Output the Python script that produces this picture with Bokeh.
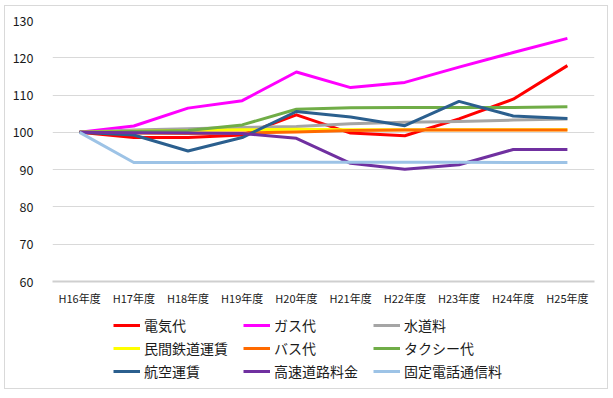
from bokeh.plotting import figure
from bokeh.models import Range1d, FixedTicker, Legend, LegendItem
from bokeh.layouts import column
from bokeh.embed import file_html
from bokeh.resources import INLINE

categories = ["H16年度", "H17年度", "H18年度", "H19年度", "H20年度",
              "H21年度", "H22年度", "H23年度", "H24年度", "H25年度"]

denki = [100, 98.6, 98.6, 99.3, 104.7, 99.8, 99.1, 103.6, 108.9, 117.9]
gas = [100, 101.7, 106.5, 108.5, 116.2, 112.0, 113.4, 117.5, 121.4, 125.2]
suido = [100, 100.6, 101.0, 101.3, 101.6, 102.3, 102.7, 102.9, 103.3, 103.6]
tetsudo = [100, 100.3, 100.5, 100.7, 100.8, 100.7, 100.7, 100.7, 100.7, 100.7]
bus = [100, 99.8, 99.7, 99.8, 100.1, 100.5, 100.6, 100.6, 100.6, 100.6]
taxi = [100, 100.2, 100.5, 102.0, 106.2, 106.6, 106.7, 106.7, 106.7, 106.9]
koku = [100, 99.3, 95.0, 98.6, 105.6, 104.1, 101.8, 108.3, 104.4, 103.7]
kosoku = [100, 99.9, 99.8, 99.7, 98.4, 91.7, 90.1, 91.3, 95.4, 95.4]
denwa = [100, 91.9, 91.9, 92.0, 92.0, 92.0, 92.0, 92.0, 91.9, 91.9]

series_names = ["電気代", "ガス代", "水道料", "民間鉄道運賃", "バス代",
                "タクシー代", "航空運賃", "高速道路料金", "固定電話通信料"]
series_values = [denki, gas, suido, tetsudo, bus, taxi, koku, kosoku, denwa]
series_colors = ["#FF0000", "#FF00FF", "#A5A5A5", "#FFFF00", "#FF6A00",
                 "#70AD47", "#2B5F8E", "#7030A0", "#9DC3E6"]

y_ticks = [60, 70, 80, 90, 100, 110, 120, 130]

FONT = "Noto Sans CJK JP"

p = figure(x_range=categories, y_range=Range1d(60, 130),
           width=602, height=303, output_backend="svg", toolbar_location=None,
           min_border_left=47, min_border_right=13, min_border_top=14,
           min_border_bottom=28)
p.outline_line_color = None
p.background_fill_color = "white"
p.border_fill_color = "white"

p.xgrid.grid_line_color = None
p.ygrid.grid_line_color = "#D9D9D9"
p.ygrid.grid_line_width = 1
p.yaxis.ticker = FixedTicker(ticks=y_ticks)
p.yaxis.axis_line_color = None
p.yaxis.major_tick_line_color = None
p.yaxis.minor_tick_line_color = None
p.yaxis.major_tick_out = 0
p.yaxis.major_tick_in = 0
p.yaxis.major_label_standoff = 19
p.yaxis.major_label_text_font = FONT
p.yaxis.major_label_text_font_size = "12.5px"
p.yaxis.major_label_text_color = "#1a1a1a"

p.xaxis.axis_line_color = "#CFCFCF"
p.xaxis.axis_line_width = 2
p.xaxis.major_tick_line_color = None
p.xaxis.minor_tick_line_color = None
p.xaxis.major_tick_out = 0
p.xaxis.major_tick_in = 0
p.xaxis.major_label_standoff = 8
p.xaxis.major_label_text_font = FONT
p.xaxis.major_label_text_font_size = "11px"
p.xaxis.major_label_text_color = "#1a1a1a"

for vals, col in zip(series_values, series_colors):
    p.line(categories, vals, line_color=col, line_width=3, line_join="round")

# legend panel below the chart (its series lie outside its empty view)
p2 = figure(width=602, height=79, output_backend="svg", toolbar_location=None,
            x_range=categories, y_range=Range1d(0, 1),
            x_axis_location=None, y_axis_location=None,
            min_border_left=0, min_border_right=0, min_border_top=0,
            min_border_bottom=0)
p2.outline_line_color = None
p2.grid.grid_line_color = None
p2.border_fill_color = "white"

items = []
for name, vals, col in zip(series_names, series_values, series_colors):
    r = p2.line(categories, vals, line_color=col, line_width=3)
    items.append(LegendItem(label=name, renderers=[r]))

legend = Legend(items=items, orientation="horizontal", ncols=3,
                location=(61, 7), padding=0, margin=0, spacing=3,
                glyph_width=27, glyph_height=20, label_height=20, label_width=96,
                label_standoff=4, label_text_font=FONT,
                label_text_font_size="14px", label_text_color="#1a1a1a",
                background_fill_alpha=0, border_line_color=None)
p2.add_layout(legend, "center")

layout = column(p, p2, spacing=0,
                styles={"border": "1px solid #D9D9D9", "margin-left": "4px",
                        "margin-top": "5px"})

open("out.html", "w").write(file_html(layout, INLINE))
